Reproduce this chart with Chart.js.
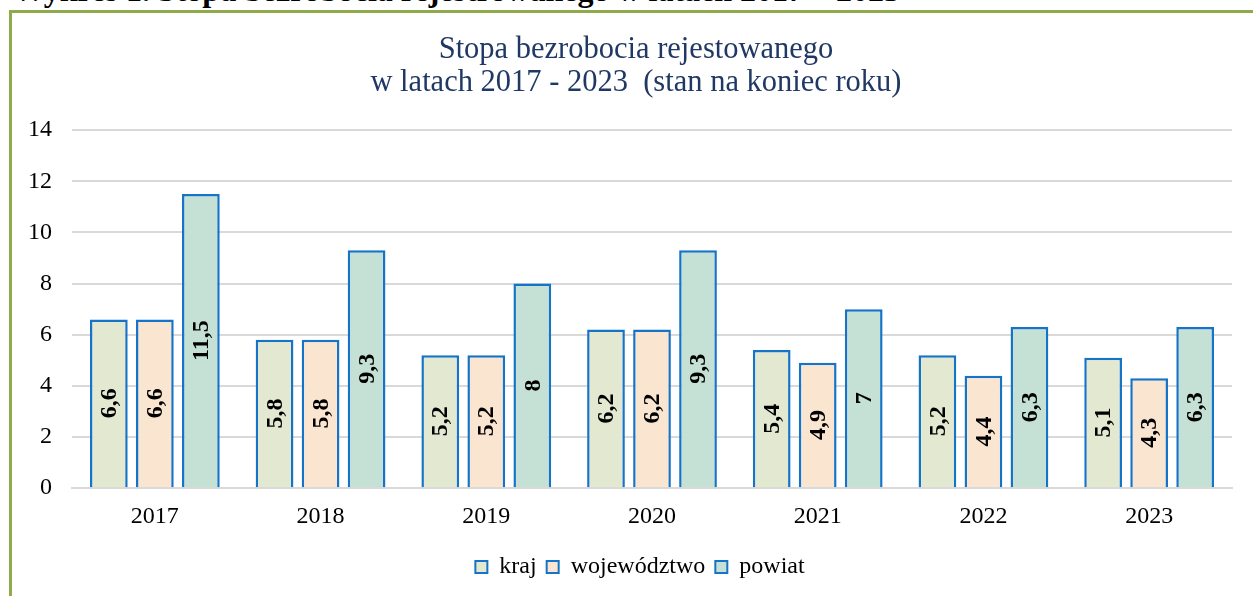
<!DOCTYPE html>
<html lang="pl">
<head>
<meta charset="utf-8">
<title>Stopa bezrobocia rejestrowanego</title>
<script src="https://cdn.jsdelivr.net/npm/chart.js@4/dist/chart.umd.min.js"></script>
<style>
    html, body {
        margin: 0;
        padding: 0;
        background: #ffffff;
        overflow: hidden;
    }
    .page {
        position: relative;
        width: 1253px;
        height: 596px;
        overflow: hidden;
    }
    .caption {
        position: absolute;
        left: 13px;
        top: -26px;
        font: bold 32px "Liberation Serif", "Times New Roman", serif;
        line-height: 32px;
        color: #000;
        white-space: nowrap;
    }
    .frame {
        position: absolute;
        left: 9px;
        top: 10px;
        width: 1300px;
        height: 700px;
        border-left: 3px solid #8faa4c;
        border-top: 3px solid #8faa4c;
    }
    #chartBox {
        position: absolute;
        left: 0;
        top: 0;
        width: 1253px;
        height: 596px;
    }
</style>
</head>
<body>
<div class="page">
    <div class="caption">Wykres 1. Stopa bezrobocia rejestrowanego w latach 2017 – 2023</div>
    <div class="frame"></div>
    <div id="chartBox"><canvas id="myChart" width="1253" height="596"></canvas></div>
</div>

<script>
/////////////////////////////////////////////data//////////////////////////////////////////////

const years = ["2017", "2018", "2019", "2020", "2021", "2022", "2023"];

const kraj = [6.6, 5.8, 5.2, 6.2, 5.4, 5.2, 5.1];
const wojewodztwo = [6.6, 5.8, 5.2, 6.2, 4.9, 4.4, 4.3];
const powiat = [11.5, 9.3, 8, 9.3, 7, 6.3, 6.3];

const yTicks = [0, 2, 4, 6, 8, 10, 12, 14];

const titleLines = ["Stopa bezrobocia rejestowanego", "w latach 2017 - 2023  (stan na koniec roku)"];

/////////////////////////////////////////////data//////////////////////////////////////////////

const serif = "'Liberation Serif', 'Times New Roman', serif";
const barBorder = "#1574c8";

// Values written vertically inside every bar, Polish decimal comma
const barValues = {
    id: "barValues",
    afterDatasetsDraw(chart) {
        const ctx = chart.ctx;
        ctx.save();
        ctx.font = "bold 24px " + serif;
        ctx.fillStyle = "#000";
        ctx.textAlign = "center";
        ctx.textBaseline = "middle";
        chart.data.datasets.forEach((ds, i) => {
            chart.getDatasetMeta(i).data.forEach((bar, j) => {
                const text = String(ds.data[j]).replace(".", ",");
                ctx.save();
                ctx.translate(bar.x, (bar.y + bar.base) / 2);
                ctx.rotate(-Math.PI / 2);
                ctx.fillText(text, 0, 1);
                ctx.restore();
            });
        });
        ctx.restore();
    }
};

// Nudge the title and legend a bit to the right of the canvas centre
const boxShift = {
    id: "boxShift",
    afterLayout(chart) {
        if (chart.legend) {
            chart.legend.left += 18;
            chart.legend.right += 18;
        }
        if (chart.titleBlock) {
            chart.titleBlock.left += 14;
            chart.titleBlock.right += 14;
        }
    }
};

document.addEventListener("DOMContentLoaded", function () {
    const ctx = document.getElementById("myChart").getContext("2d");

    new Chart(ctx, {
        type: "bar",
        data: {
            labels: years,
            datasets: [
                { label: "kraj", data: kraj, backgroundColor: "#e3e9d1" },
                { label: "województwo", data: wojewodztwo, backgroundColor: "#fae5d1" },
                { label: "powiat", data: powiat, backgroundColor: "#c5e0d5" }
            ].map(ds => Object.assign(ds, {
                borderColor: barBorder,
                borderWidth: 2.5,
                borderSkipped: "bottom",
                categoryPercentage: 0.833,
                barPercentage: 0.82
            }))
        },
        options: {
            responsive: false,
            animation: false,
            layout: {
                padding: { left: 12, right: 21, top: 0, bottom: 7 }
            },
            scales: {
                x: {
                    grid: { display: false, drawTicks: false },
                    border: { display: true, color: "#d9d9d9", width: 2 },
                    ticks: {
                        color: "#000",
                        padding: 14,
                        font: { family: serif, size: 24 }
                    }
                },
                y: {
                    min: 0,
                    max: 14,
                    afterBuildTicks: scale => {
                        scale.ticks = yTicks.map(v => ({ value: v }));
                    },
                    afterFit: scale => { scale.width = 60; },
                    grid: { color: "#d9d9d9", lineWidth: 2, drawTicks: false },
                    border: { display: false },
                    ticks: {
                        color: "#000",
                        padding: 20,
                        font: { family: serif, size: 24 }
                    }
                }
            },
            plugins: {
                title: {
                    display: true,
                    text: titleLines,
                    color: "#1f3864",
                    font: { family: serif, size: 30.5, weight: "normal", lineHeight: 1.1 },
                    padding: { top: 33, bottom: 30 }
                },
                legend: {
                    position: "bottom",
                    labels: {
                        color: "#000",
                        boxWidth: 12,
                        boxHeight: 12,
                        padding: 10,
                        font: { family: serif, size: 24 },
                        // thinner outline on the legend squares than on the bars
                        generateLabels: chart =>
                            Chart.defaults.plugins.legend.labels.generateLabels(chart)
                                .map(item => Object.assign(item, { lineWidth: 2 }))
                    }
                },
                tooltip: { enabled: false }
            }
        },
        plugins: [barValues, boxShift]
    });
});
</script>
</body>
</html>
